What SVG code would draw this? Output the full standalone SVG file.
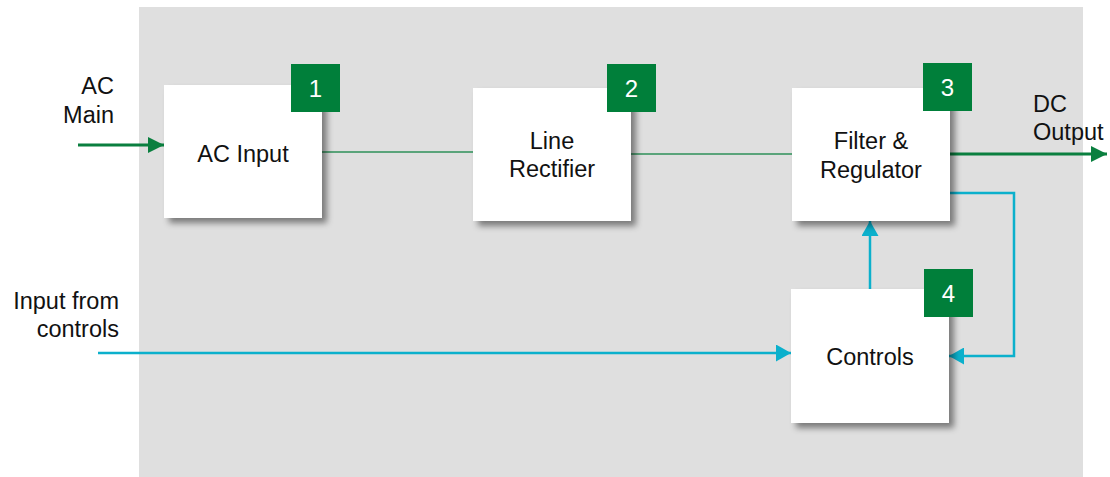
<svg xmlns="http://www.w3.org/2000/svg" width="1110" height="477" viewBox="0 0 1110 477">
<style>
.box{fill:#ffffff;filter:url(#sh)}
.badge{fill:#007F3A}
.bt{font-family:"Liberation Sans",Arial,sans-serif;font-size:24px;fill:#ffffff;text-anchor:middle}
.t{font-family:"Liberation Sans",Arial,sans-serif;font-size:23.5px;fill:#111111}
.c{text-anchor:middle}
.r{text-anchor:end}
.g{stroke:#0A7F3F;stroke-width:3;fill:none}
.gt{stroke:#2E9158;stroke-width:1.5;fill:none}
.cy{stroke:#0BB0CC;stroke-width:2.5;fill:none}
</style>
<defs>
<filter id="sh" x="-20%" y="-20%" width="150%" height="150%">
<feDropShadow dx="5" dy="5" stdDeviation="3" flood-color="#000000" flood-opacity="0.45"/>
</filter>
<marker id="ag" markerUnits="userSpaceOnUse" markerWidth="16" markerHeight="16" refX="16" refY="8" orient="auto">
<path d="M0,0 L16,8 L0,16 z" fill="#0A7F3F"/>
</marker>
<marker id="ac" markerUnits="userSpaceOnUse" markerWidth="16" markerHeight="17" refX="15" refY="8.5" orient="auto">
<path d="M0,0 L15,8.5 L0,17 z" fill="#0BB0CC"/>
</marker>
</defs>
<rect x="139" y="7" width="944" height="470" fill="#DFDFDF"/>
<g id="connectors">
<line class="g" x1="78" y1="145" x2="164" y2="145" marker-end="url(#ag)"/>
<line class="gt" x1="322" y1="152" x2="473" y2="152"/>
<line class="gt" x1="631" y1="154" x2="792" y2="154"/>
<line class="g" x1="950" y1="154" x2="1107" y2="154" marker-end="url(#ag)"/>
<line class="cy" x1="98" y1="353" x2="791" y2="353" marker-end="url(#ac)"/>
<line class="cy" x1="870" y1="289" x2="870" y2="221" marker-end="url(#ac)"/>
<polyline class="cy" points="950,193 1014,193 1014,356 949,356" marker-end="url(#ac)"/>
</g>
<g id="node-ac-input">
<rect class="box" x="164" y="85" width="158" height="133"/>
<text class="t c" x="243" y="162">AC Input</text>
<rect class="badge" x="291" y="64" width="49" height="48"/>
<text class="bt" x="315.5" y="97">1</text>
</g>
<g id="node-line-rectifier">
<rect class="box" x="473" y="88" width="158" height="133"/>
<text class="t c" x="552" y="149">Line</text>
<text class="t c" x="552" y="177">Rectifier</text>
<rect class="badge" x="607" y="64" width="49" height="48"/>
<text class="bt" x="631.5" y="97">2</text>
</g>
<g id="node-filter-regulator">
<rect class="box" x="792" y="88" width="158" height="133"/>
<text class="t c" x="871" y="149">Filter &amp;</text>
<text class="t c" x="871" y="178">Regulator</text>
<rect class="badge" x="923" y="63" width="49" height="48"/>
<text class="bt" x="947.5" y="96">3</text>
</g>
<g id="node-controls">
<rect class="box" x="791" y="289" width="158" height="134"/>
<text class="t c" x="870" y="365">Controls</text>
<rect class="badge" x="924" y="269" width="49" height="48"/>
<text class="bt" x="948.5" y="302">4</text>
</g>
<g id="labels">
<text class="t r" x="114" y="94">AC</text>
<text class="t r" x="114" y="123">Main</text>
<text class="t" x="1033" y="112">DC</text>
<text class="t" x="1033" y="140">Output</text>
<text class="t r" x="119" y="309">Input from</text>
<text class="t r" x="119" y="337">controls</text>
</g>
</svg>
